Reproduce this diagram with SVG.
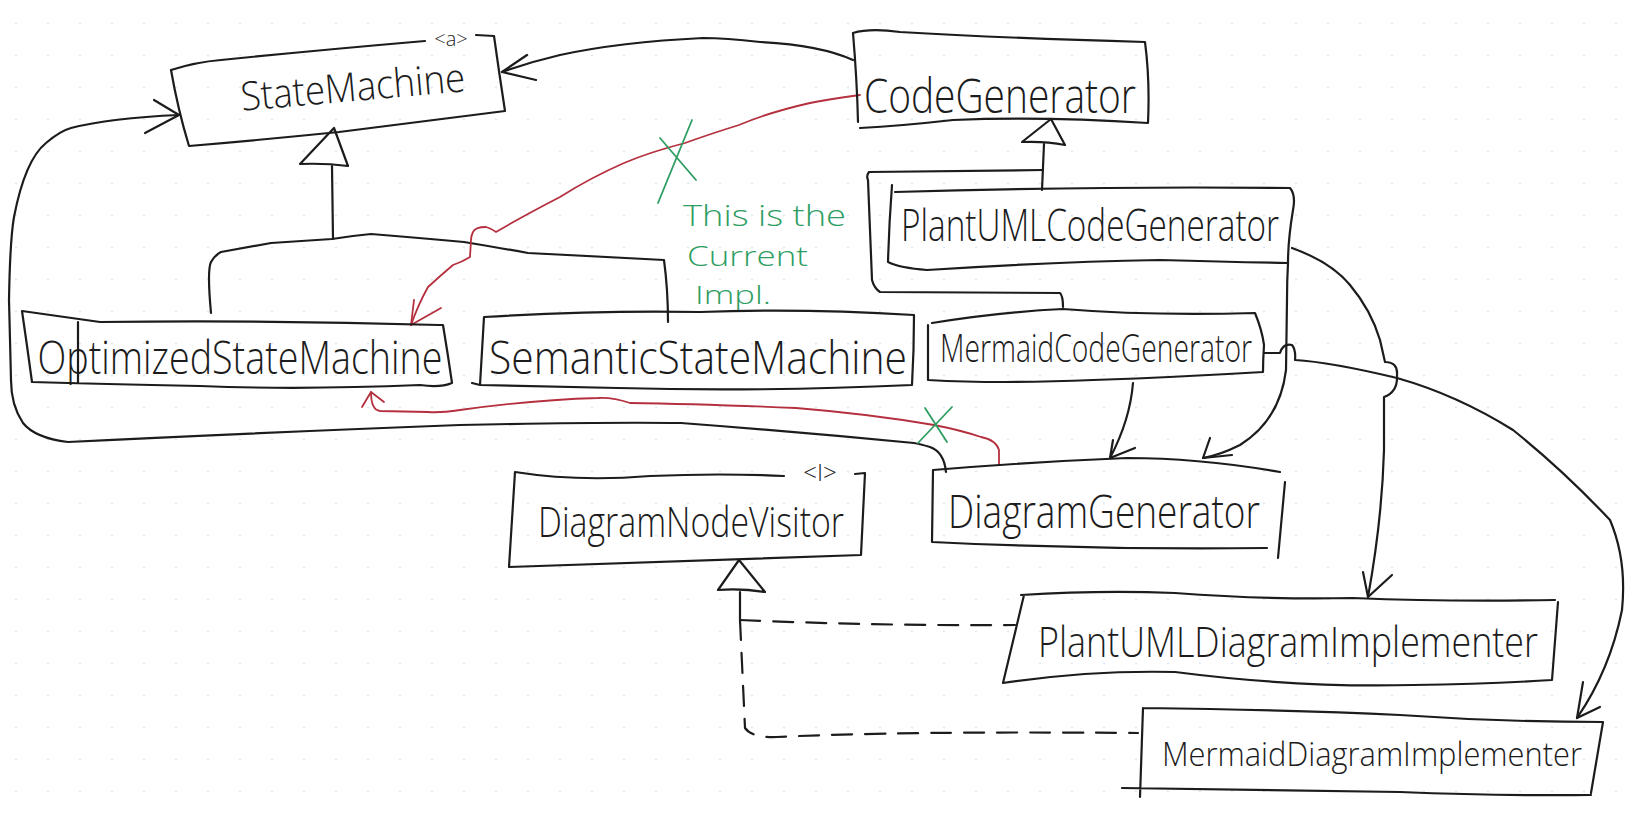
<svg xmlns="http://www.w3.org/2000/svg" width="1632" height="817" viewBox="0 0 1632 817">
<defs>
<pattern id="dots" width="32" height="32" patternUnits="userSpaceOnUse"><circle cx="16" cy="23.5" r="1.1" fill="#dce7f2"/></pattern>
<style>
.k{fill:none;stroke:#1c1c1c;stroke-width:2.2;stroke-linecap:round;stroke-linejoin:round}
.r{fill:none;stroke:#b5303f;stroke-width:1.8;stroke-linecap:round;stroke-linejoin:round}
.g{fill:none;stroke:#2e9d62;stroke-width:1.8;stroke-linecap:round}
.d{stroke-dasharray:20 13}
.t{font-family:"Open Sans","Liberation Sans",Arial,sans-serif;font-weight:300;fill:#1c1c1c;text-anchor:middle}
.gt{font-family:"Open Sans","Liberation Sans",Arial,sans-serif;font-weight:300;fill:#2e9d62}
</style>
</defs>
<rect width="1632" height="817" fill="#fff"/>
<rect width="1632" height="817" fill="url(#dots)"/>

<g id="connectors">
  <!-- CodeGenerator -> StateMachine -->
  <path class="k" d="M853,60 Q820,45 760,42 Q725,38 703,38 Q620,42 560,55 Q530,62 502,72"/>
  <path class="k" d="M527,55 L502,72 L536,80"/>
  <!-- DiagramGenerator -> StateMachine (loop) -->
  <path class="k" d="M946,472 Q944,452 930,447 Q920,444 914,443 Q800,432 681,423 Q600,422 460,425 Q250,433 68,442 Q35,438 23,423 Q11,405 11,380 L9,300 Q10,240 14,217 Q25,160 46,143 Q60,131 71,128 Q110,118 179,115"/>
  <path class="k" d="M154,100 L179,115 L145,133"/>
  <!-- inheritance to StateMachine -->
  <path class="k" d="M332,166 L333,239"/>
  <path class="k" d="M211,313 Q207,270 211,262 Q215,255 221,252 L271,243 L332,239 Q350,236 371,234 Q420,238 464,242 Q500,248 528,253 L664,260 Q668,290 668,322"/>
  <path class="k" d="M334,128 L300,164 Q325,163 348,166 Z" fill="#fff"/>
  <!-- inheritance to CodeGenerator -->
  <path class="k" d="M1044,144 L1042,190"/>
  <path class="k" d="M1043,170 L869,172 Q866,176 868,180 L872,280 Q874,288 880,292 L1060,293 Q1063,296 1063,307"/>
  <path class="k" d="M1051,119 L1022,142 Q1045,141 1065,145 Z" fill="#fff"/>
  <!-- PlantUMLCodeGenerator -> DiagramGenerator -->
  <path class="k" d="M1288,263 Q1287,280 1287,300 L1286,370 Q1280,420 1240,445 Q1220,455 1203,458"/>
  <path class="k" d="M1210,438 L1203,458 L1232,455"/>
  <!-- MermaidCodeGenerator -> DiagramGenerator -->
  <path class="k" d="M1133,383 Q1130,420 1110,458"/>
  <path class="k" d="M1113,440 L1110,458 L1135,448"/>
  <!-- PlantUMLCodeGenerator -> PlantUMLDiagramImplementer -->
  <path class="k" d="M1292,248 Q1331,262 1350,285 Q1371,310 1380,340 L1385,362 Q1398,362 1397,375 Q1398,392 1384,397 L1384,450 Q1382,520 1368,597"/>
  <path class="k" d="M1363,572 L1368,597 L1392,575"/>
  <!-- MermaidCodeGenerator -> MermaidDiagramImplementer -->
  <path class="k" d="M1264,353 L1280,353 Q1283,343 1292,345 Q1296,350 1295,360 Q1330,362 1397,378 Q1457,395 1513,430 Q1563,470 1610,520 Q1627,560 1622,610 Q1610,670 1577,718"/>
  <path class="k" d="M1583,682 L1577,718 L1600,707"/>
  <!-- realization to DiagramNodeVisitor -->
  <path class="k" d="M740,592 L740,620"/>
  <path class="k d" d="M740,620 Q880,626 1015,625"/>
  <path class="k d" d="M740,620 L745,728 Q752,738 777,737 Q900,731 1138,733"/>
  <path class="k" d="M739,560 L718,590 Q740,588 765,592 Z" fill="#fff"/>
  <!-- red: CodeGenerator -> OptimizedStateMachine -->
  <path class="r" d="M860,95 Q830,99 810,103 Q770,112 739,125 Q710,134 685,143 Q650,152 624,163 Q590,178 560,197 Q525,215 496,232 Q490,228 486,227 Q475,227 473,232 Q471,236 471,240 L470,257 Q462,262 453,265 Q440,276 428,287 Q418,305 411,325"/>
  <path class="r" d="M414,300 L411,325 L441,308"/>
  <!-- red: DiagramGenerator -> OptimizedStateMachine -->
  <path class="r" d="M999,465 L999,450 Q996,440 981,437 Q960,430 934,425 Q870,414 796,408 Q700,404 630,403 Q612,397 598,398 Q530,400 460,410 Q440,413 428,412 L380,411 Q371,410 371,392"/>
  <path class="r" d="M362,407 L371,392 L384,402"/>
  <!-- green crosses -->
  <path class="g" d="M692,120 L658,203 M660,138 L696,180"/>
  <path class="g" d="M925,408 L947,442 M952,407 L918,443"/>
</g>

<g id="note">
  <text class="gt" x="683" y="226" font-size="30" textLength="163" lengthAdjust="spacingAndGlyphs">This is the</text>
  <text class="gt" x="687" y="266" font-size="28" textLength="121" lengthAdjust="spacingAndGlyphs">Current</text>
  <text class="gt" x="695" y="304" font-size="26" textLength="76" lengthAdjust="spacingAndGlyphs">Impl.</text>
</g>

<g id="StateMachine">
  <path class="k" d="M171,70 Q196,62 221,60 Q320,50 425,41 M476,35 L494,36 Q499,72 505,111 Q420,122 339,132 Q260,140 189,146 Q178,110 171,70"/>
  <text class="t" x="451" y="46" font-size="20">&lt;a&gt;</text>
  <text class="t" x="353" y="101" font-size="40" textLength="225" lengthAdjust="spacingAndGlyphs" transform="rotate(-5 353 88)">StateMachine</text>
</g>

<g id="OptimizedStateMachine">
  <path class="k" d="M22,311 L100,322 Q270,320 439,325 L443,325 Q448,355 452,383 Q440,388 420,385 Q300,390 200,386 Q100,384 32,382 Q27,345 22,311 Z M78,322 L78,383"/>
  <text class="t" x="240" y="374" font-size="46" textLength="405" lengthAdjust="spacingAndGlyphs">OptimizedStateMachine</text>
</g>

<g id="SemanticStateMachine">
  <path class="k" d="M484,317 Q600,310 700,312 Q800,308 914,315 Q914,350 912,385 Q760,392 618,388 Q540,386 480,385 Q482,350 484,317 Z M480,385 L472,383"/>
  <text class="t" x="698" y="374" font-size="46" textLength="418" lengthAdjust="spacingAndGlyphs">SemanticStateMachine</text>
</g>

<g id="CodeGenerator">
  <path class="k" d="M853,33 Q870,28 900,32 Q1000,38 1145,42 Q1150,80 1148,123 Q1040,116 953,120 Q900,126 860,128 M853,33 Q857,80 858,122"/>
  <text class="t" x="1000" y="113" font-size="48" textLength="272" lengthAdjust="spacingAndGlyphs">CodeGenerator</text>
</g>

<g id="PlantUMLCodeGenerator">
  <path class="k" d="M892,185 Q889,225 888,262 M895,192 Q1100,186 1290,188 Q1296,195 1293,210 Q1288,240 1288,263 M888,262 Q900,268 927,270 Q1050,262 1160,260 Q1230,262 1288,263"/>
  <text class="t" x="1090" y="241" font-size="44" textLength="378" lengthAdjust="spacingAndGlyphs">PlantUMLCodeGenerator</text>
</g>

<g id="MermaidCodeGenerator">
  <path class="k" d="M928,325 L928,380 M932,323 Q1000,312 1063,309 Q1150,316 1255,313 Q1262,330 1264,345 Q1263,360 1263,372 M928,380 Q1000,384 1093,380 Q1180,377 1263,372"/>
  <text class="t" x="1096" y="362" font-size="38" textLength="312" lengthAdjust="spacingAndGlyphs">MermaidCodeGenerator</text>
</g>

<g id="DiagramGenerator">
  <path class="k" d="M933,470 Q1030,462 1127,458 Q1200,458 1280,472 M933,470 L932,542 M1285,482 L1278,558 M932,542 Q1100,550 1267,548"/>
  <text class="t" x="1104" y="528" font-size="46" textLength="312" lengthAdjust="spacingAndGlyphs">DiagramGenerator</text>
</g>

<g id="DiagramNodeVisitor">
  <path class="k" d="M515,472 Q578,482 650,476 Q720,473 784,476 M855,474 L865,473 M515,472 L509,567 M865,473 L861,555 M509,567 Q700,560 861,555"/>
  <text class="t" x="820" y="481" font-size="24">&lt;I&gt;</text>
  <text class="t" x="691" y="537" font-size="42" textLength="306" lengthAdjust="spacingAndGlyphs">DiagramNodeVisitor</text>
</g>

<g id="PlantUMLDiagramImplementer">
  <path class="k" d="M1021,595 Q1100,590 1175,593 Q1270,600 1353,598 Q1450,602 1555,600 M1558,602 L1552,680 M1024,595 L1003,683 M1003,683 Q1090,670 1175,672 Q1300,688 1413,685 Q1490,684 1552,680"/>
  <text class="t" x="1288" y="657" font-size="42" textLength="500" lengthAdjust="spacingAndGlyphs">PlantUMLDiagramImplementer</text>
</g>

<g id="MermaidDiagramImplementer">
  <path class="k" d="M1143,708 Q1294,710 1400,715 Q1500,722 1603,722 L1591,793 M1143,708 L1140,797 M1122,788 Q1300,790 1400,792 Q1500,796 1591,795"/>
  <text class="t" x="1372" y="766" font-size="33" textLength="420" lengthAdjust="spacingAndGlyphs">MermaidDiagramImplementer</text>
</g>
</svg>
